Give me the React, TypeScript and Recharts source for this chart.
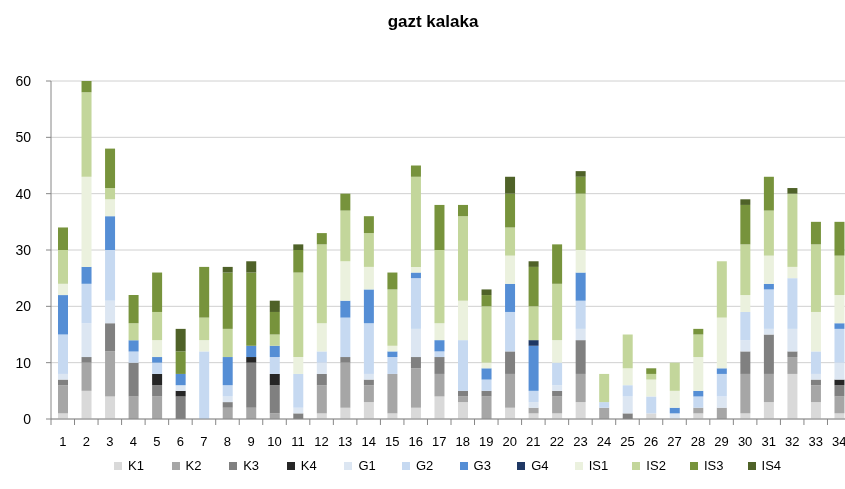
import React from 'react';
import { BarChart, Bar, XAxis, YAxis, CartesianGrid } from 'recharts';

const categories = Array.from({ length: 34 }, (_, i) => String(i + 1));

const K1 = [1, 5, 4, 0, 0, 0, 0, 0, 0, 0, 0, 1, 2, 3, 1, 2, 4, 3, 0, 2, 1, 1, 3, 0, 0, 1, 0, 1, 0, 1, 3, 8, 3, 1];
const K2 = [5, 5, 8, 4, 4, 0, 0, 2, 2, 1, 0, 5, 8, 3, 7, 7, 4, 1, 4, 6, 1, 3, 5, 2, 0, 0, 0, 1, 2, 7, 5, 3, 3, 3];
const K3 = [1, 1, 5, 6, 2, 4, 0, 1, 8, 5, 1, 2, 1, 1, 0, 2, 3, 1, 1, 4, 0, 1, 6, 0, 1, 0, 0, 0, 0, 4, 7, 1, 1, 2];
const K4 = [0, 0, 0, 0, 2, 1, 0, 0, 1, 2, 0, 0, 0, 0, 0, 0, 0, 0, 0, 0, 0, 0, 0, 0, 0, 0, 0, 0, 0, 0, 0, 0, 0, 1];
const G1 = [1, 6, 4, 0, 0, 1, 0, 1, 0, 0, 1, 2, 0, 1, 0, 5, 0, 0, 0, 0, 1, 1, 2, 0, 3, 0, 1, 0, 2, 2, 1, 4, 1, 3];
const G2 = [7, 7, 9, 2, 2, 0, 12, 2, 0, 3, 6, 2, 7, 9, 3, 9, 1, 9, 2, 7, 2, 4, 5, 1, 2, 3, 0, 2, 4, 5, 7, 9, 4, 6];
const G3 = [7, 3, 6, 2, 1, 2, 0, 5, 2, 2, 0, 0, 3, 6, 1, 1, 2, 0, 2, 5, 8, 0, 5, 0, 0, 0, 1, 1, 1, 0, 1, 0, 0, 1];
const G4 = [0, 0, 0, 0, 0, 0, 0, 0, 0, 0, 0, 0, 0, 0, 0, 0, 0, 0, 0, 0, 1, 0, 0, 0, 0, 0, 0, 0, 0, 0, 0, 0, 0, 0];
const IS1 = [2, 16, 3, 0, 3, 0, 2, 0, 0, 0, 3, 5, 7, 4, 1, 1, 3, 7, 1, 5, 0, 4, 4, 0, 3, 3, 3, 6, 9, 3, 5, 2, 7, 5];
const IS2 = [6, 15, 2, 3, 5, 0, 4, 5, 0, 2, 15, 14, 9, 6, 10, 16, 13, 15, 10, 5, 6, 10, 10, 5, 6, 1, 5, 4, 10, 9, 8, 13, 12, 7];
const IS3 = [4, 2, 7, 5, 7, 4, 9, 10, 13, 4, 4, 2, 3, 3, 3, 2, 8, 2, 2, 6, 7, 7, 3, 0, 0, 1, 0, 1, 0, 7, 6, 0, 4, 6];
const IS4 = [0, 0, 0, 0, 0, 4, 0, 1, 2, 2, 1, 0, 0, 0, 0, 0, 0, 0, 1, 3, 1, 0, 1, 0, 0, 0, 0, 0, 0, 1, 0, 1, 0, 0];

const seriesNames = ['K1', 'K2', 'K3', 'K4', 'G1', 'G2', 'G3', 'G4', 'IS1', 'IS2', 'IS3', 'IS4'];
const seriesValues = [K1, K2, K3, K4, G1, G2, G3, G4, IS1, IS2, IS3, IS4];
const seriesColors = ['#d9d9d9', '#a6a6a6', '#808080', '#262626', '#dce6f2', '#c6d9f1', '#558ed5', '#1f3864', '#ebf1de', '#c3d69b', '#77933c', '#4f6228'];
const yTicks = [0, 10, 20, 30, 40, 50, 60];

const data = categories.map((c, i) => {
  const row: Record<string, any> = { name: c };
  seriesNames.forEach((s, j) => { row[s] = seriesValues[j][i]; });
  return row;
});

const W = 848;
const H = 481;
const M = { top: 73, right: 5, left: 0, bottom: 40 };
const Y_W = 43;
const X_H = 30;
const PLOT_BOTTOM = H - M.bottom - X_H;
const BAND = (W - M.right - M.left - Y_W) / categories.length;
const FONT = '"Liberation Sans", Arial, sans-serif';

const XTick = (props: any) => {
  const { x, payload, index } = props;
  return (
    <g>
      <line x1={x - BAND / 2} x2={x - BAND / 2} y1={PLOT_BOTTOM} y2={PLOT_BOTTOM + 6} stroke="#868686" />
      {index === categories.length - 1 && (
        <line x1={x + BAND / 2} x2={x + BAND / 2} y1={PLOT_BOTTOM} y2={PLOT_BOTTOM + 6} stroke="#868686" />
      )}
      <text x={x} y={PLOT_BOTTOM + 27} textAnchor="middle" fontSize={13} fontFamily={FONT} fill="#000">
        {payload.value}
      </text>
    </g>
  );
};

export default function App() {
  return (
    <div style={{ position: 'fixed', left: 8, top: 8, width: 837, height: 473, overflow: 'hidden' }}>
      <div style={{ position: 'relative', width: W, height: H }}>
        <div
          style={{
            position: 'absolute', top: 4, left: 0, width: 850, textAlign: 'center',
            fontFamily: FONT, fontWeight: 'bold', fontSize: 17, lineHeight: '20px', color: '#000',
          }}
        >
          gazt kalaka
        </div>
        <BarChart width={W} height={H} data={data} margin={M} barSize={10}>
          <CartesianGrid vertical={false} stroke="#d0d0d0" />
          <XAxis
            dataKey="name"
            height={X_H}
            interval={0}
            tickLine={false}
            axisLine={{ stroke: '#868686' }}
            tick={<XTick />}
          />
          <YAxis
            width={Y_W}
            domain={[0, 60]}
            ticks={yTicks}
            tickSize={5}
            tickMargin={15}
            axisLine={{ stroke: '#868686' }}
            tickLine={{ stroke: '#868686' }}
            tick={{ fontSize: 14, fontFamily: FONT, fill: '#000' }}
          />
          {seriesNames.map((s, j) => (
            <Bar key={s} dataKey={s} stackId="a" fill={seriesColors[j]} isAnimationActive={false} />
          ))}
        </BarChart>
        <div
          style={{
            position: 'absolute', top: 450, left: 106, display: 'flex',
            fontFamily: FONT, fontSize: 13, lineHeight: '16px', color: '#000',
          }}
        >
          {seriesNames.map((s, j) => (
            <div key={s} style={{ width: 57.6, display: 'flex', alignItems: 'center' }}>
              <span style={{ display: 'inline-block', width: 8, height: 8, background: seriesColors[j], marginRight: 6 }} />
              <span>{s}</span>
            </div>
          ))}
        </div>
      </div>
    </div>
  );
}
